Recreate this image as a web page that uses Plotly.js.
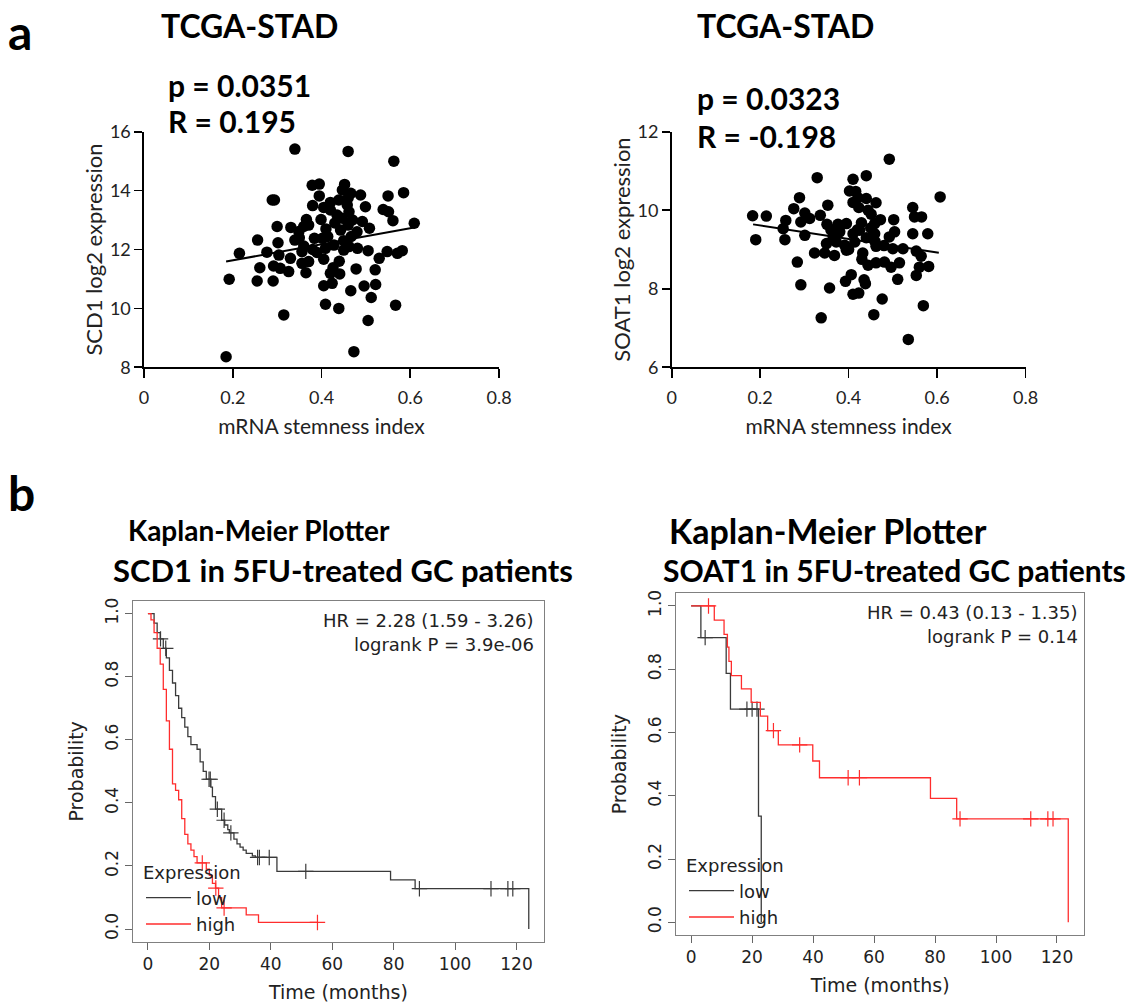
<!DOCTYPE html>
<html>
<head>
<meta charset="utf-8">
<script src="https://cdn.plot.ly/plotly-3.0.1.min.js"></script>
<style>html,body{margin:0;padding:0;background:#fff;}#chart{width:1138px;height:1008px;}</style>
</head>
<body>
<div id="chart"></div>
<script>
// ---------- Panel a: TCGA-STAD scatter data ----------
const scd1Stemness = [0.340,0.460,0.563,0.379,0.395,0.452,0.447,0.466,0.488,0.550,0.585,0.395,0.289,0.294,0.380,0.439,0.458,0.405,0.420,0.499,0.539,0.551,0.435,0.447,0.462,0.561,0.609,0.366,0.399,0.492,0.300,0.331,0.360,0.371,0.460,0.508,0.349,0.443,0.256,0.302,0.340,0.384,0.402,0.414,0.467,0.215,0.277,0.304,0.360,0.356,0.409,0.428,0.450,0.462,0.481,0.505,0.548,0.571,0.582,0.405,0.530,0.261,0.292,0.307,0.326,0.356,0.371,0.365,0.426,0.478,0.521,0.192,0.255,0.291,0.420,0.441,0.405,0.424,0.466,0.496,0.522,0.512,0.409,0.439,0.567,0.315,0.505,0.473,0.185,0.430,0.450,0.470,0.410,0.390,0.440,0.480,0.380,0.420,0.460,0.350,0.330];
const scd1Expr = [15.41,15.33,15.00,14.18,14.22,14.21,14.02,13.91,13.85,13.82,13.93,13.82,13.68,13.68,13.49,13.68,13.51,13.43,13.34,13.45,13.36,13.28,13.17,13.06,13.28,12.98,12.89,13.02,13.02,12.95,12.78,12.75,12.78,12.83,12.83,12.72,12.61,12.66,12.32,12.23,12.32,12.38,12.38,12.44,12.44,11.87,11.91,11.81,12.12,11.93,12.04,12.15,11.98,12.10,12.04,11.96,11.93,11.87,11.96,11.67,11.70,11.38,11.44,11.36,11.25,11.53,11.59,11.21,11.38,11.34,11.31,10.99,10.93,10.93,11.19,11.17,10.77,10.85,10.60,10.76,10.81,10.37,10.14,10.00,10.11,9.78,9.59,8.53,8.36,12.90,12.30,13.00,12.70,11.90,11.60,12.60,12.00,13.60,13.75,12.40,11.70];
const scd1FitX = [0.185, 0.609];
const scd1FitY = [11.59, 12.75];

const soat1Stemness = [0.492,0.329,0.410,0.440,0.402,0.416,0.421,0.440,0.462,0.289,0.607,0.353,0.276,0.301,0.312,0.292,0.183,0.214,0.258,0.336,0.423,0.444,0.451,0.472,0.502,0.545,0.549,0.565,0.351,0.376,0.395,0.429,0.459,0.252,0.301,0.190,0.256,0.365,0.410,0.425,0.459,0.492,0.504,0.545,0.579,0.350,0.372,0.391,0.414,0.462,0.500,0.523,0.553,0.564,0.323,0.346,0.368,0.395,0.432,0.284,0.444,0.462,0.481,0.496,0.515,0.560,0.581,0.406,0.553,0.393,0.435,0.438,0.511,0.292,0.357,0.410,0.423,0.476,0.569,0.338,0.457,0.535,0.420,0.440,0.400,0.380,0.460,0.430,0.360,0.480,0.410,0.450];
const soat1Expr = [11.30,10.83,10.79,10.88,10.49,10.48,10.32,10.30,10.19,10.32,10.34,10.13,10.04,9.93,9.79,9.70,9.86,9.85,9.74,9.87,10.07,10.00,9.90,9.76,9.76,10.07,9.83,9.83,9.64,9.64,9.66,9.68,9.66,9.53,9.36,9.25,9.25,9.32,9.40,9.49,9.40,9.32,9.45,9.40,9.40,9.15,9.19,9.11,9.19,9.08,9.02,9.02,8.96,8.83,8.91,8.91,8.85,8.98,8.91,8.68,8.60,8.66,8.68,8.55,8.66,8.55,8.57,8.36,8.34,8.19,8.23,8.13,8.24,8.10,8.02,7.86,7.89,7.74,7.57,7.26,7.34,6.71,9.50,9.30,9.00,9.45,9.20,8.75,9.50,9.10,10.20,9.55];
const soat1FitX = [0.184, 0.604];
const soat1FitY = [9.64, 8.92];

const stemTicks = [0, 0.2, 0.4, 0.6, 0.8];
const stemTickText = ['0', '0.2', '0.4', '0.6', '0.8'];

// ---------- Panel b: Kaplan-Meier data ----------
const scd1LowTime = [0,2,3,4,5,6,7,8,9,10,11,12,13,14,16,17,18,19,20.5,21,22,24,25,26,26.5,28,29,30,31,32,34,35,42,79,87,124];
const scd1LowSurv = [1,0.97,0.94,0.92,0.89,0.86,0.82,0.78,0.74,0.70,0.67,0.64,0.61,0.585,0.57,0.53,0.50,0.475,0.45,0.42,0.38,0.345,0.33,0.315,0.305,0.285,0.27,0.26,0.25,0.24,0.232,0.227,0.183,0.156,0.128,0];
const scd1LowCensor = [4.1,5.8,19.9,20.3,22.6,24.8,27.0,35.7,36.3,39.5,51.4,88.4,111.7,117.2,118.8];
const scd1HighTime = [0,1,2,3,4,5,6,7,8,9,10,11,12,13,14,15,16,19,20,21,22,23,24,32,36,55.2];
const scd1HighSurv = [1,0.98,0.94,0.89,0.84,0.76,0.66,0.57,0.46,0.44,0.41,0.35,0.30,0.27,0.25,0.23,0.21,0.19,0.17,0.145,0.13,0.10,0.067,0.045,0.021,0.021];
const scd1HighCensor = [17.7,22.1,24.8,55.2];

const soat1LowTime = [0,3.2,11.5,12.9,22.1,23.0];
const soat1LowSurv = [1,0.9,0.787,0.674,0.336,0];
const soat1LowCensor = [4.6,18.3,20.0,21.6];
const soat1HighTime = [0,7.6,10.8,11.9,12.4,13.2,16.5,19.7,22.7,25.1,28.6,39.9,42.1,78.5,87.1,123.7];
const soat1HighSurv = [1,0.955,0.91,0.87,0.825,0.78,0.738,0.695,0.652,0.606,0.561,0.51,0.457,0.392,0.327,0];
const soat1HighCensor = [5.7,27.0,35.6,51.5,55.2,88.2,111.4,117.0,118.7];

const timeTicks = [0,20,40,60,80,100,120];
const probTicks = [0,0.2,0.4,0.6,0.8,1.0];
const probTickText = ['0.0','0.2','0.4','0.6','0.8','1.0'];

// ---------- helpers ----------
function survAt(times, surv, t) {
  let s = surv[0];
  for (let i = 0; i < times.length; i++) { if (times[i] <= t) s = surv[i]; }
  return s;
}
const W = 1138, H = 1008;
const px = v => v / W;
const py = v => 1 - v / H;

const LOWC = '#3a3a3a';
const HIGHC = 'rgb(255,45,45)';

function kmTraces(t, s, c, name, color, xa, ya, legend) {
  return [
    {x: t, y: s, type: 'scatter', mode: 'lines', line: {shape: 'hv', color: color, width: 1.3},
     name: name, xaxis: xa, yaxis: ya, legend: legend, showlegend: true, hoverinfo: 'skip'},
    {x: c, y: c.map(v => survAt(t, s, v)), type: 'scatter', mode: 'markers',
     marker: {symbol: 'cross-thin', size: 11, line: {width: 1.2, color: color}},
     xaxis: xa, yaxis: ya, showlegend: false, hoverinfo: 'skip'}
  ];
}

const dotMarker = {color: '#000', size: 11.5, line: {width: 0}};
const traces = [
  {x: scd1Stemness, y: scd1Expr, type: 'scatter', mode: 'markers', marker: dotMarker, xaxis: 'x', yaxis: 'y', showlegend: false},
  {x: scd1FitX, y: scd1FitY, type: 'scatter', mode: 'lines', line: {color: '#000', width: 2}, xaxis: 'x', yaxis: 'y', showlegend: false},
  {x: soat1Stemness, y: soat1Expr, type: 'scatter', mode: 'markers', marker: dotMarker, xaxis: 'x2', yaxis: 'y2', showlegend: false},
  {x: soat1FitX, y: soat1FitY, type: 'scatter', mode: 'lines', line: {color: '#000', width: 2}, xaxis: 'x2', yaxis: 'y2', showlegend: false},
  ...kmTraces(scd1LowTime, scd1LowSurv, scd1LowCensor, 'low', LOWC, 'x3', 'y3', 'legend'),
  ...kmTraces(scd1HighTime, scd1HighSurv, scd1HighCensor, 'high', HIGHC, 'x3', 'y3', 'legend'),
  ...kmTraces(soat1LowTime, soat1LowSurv, soat1LowCensor, 'low', LOWC, 'x4', 'y4', 'legend2'),
  ...kmTraces(soat1HighTime, soat1HighSurv, soat1HighCensor, 'high', HIGHC, 'x4', 'y4', 'legend2')
];

const scFont = {family: 'Lato, sans-serif', size: 18, color: '#222'};
function scX(dom, anchor) {
  return {domain: dom, anchor: anchor, range: [0, 0.8], tickvals: stemTicks, ticktext: stemTickText,
    showline: true, linecolor: '#000', linewidth: 1.6, ticks: 'outside', ticklen: 9, tickwidth: 1.6, tickcolor: '#000',
    ticklabelstandoff: 4,
    showgrid: false, zeroline: false, tickfont: scFont, fixedrange: true,
    title: {text: 'mRNA stemness index', font: {family: 'Lato, sans-serif', size: 21, color: '#222'}, standoff: 13}};
}
function scY(dom, anchor, range, title) {
  return {domain: dom, anchor: anchor, range: range, dtick: 2, tick0: range[0],
    showline: true, linecolor: '#000', linewidth: 1.6, ticks: 'outside', ticklen: 8, tickwidth: 1.6, tickcolor: '#000',
    showgrid: false, zeroline: false, tickfont: scFont, fixedrange: true,
    title: {text: title, font: {family: 'Lato, sans-serif', size: 22, color: '#222'}, standoff: 1}};
}
const kmFont = {family: 'DejaVu Sans, sans-serif', size: 17, color: '#222'};
function kmX(dom, anchor) {
  return {domain: dom, anchor: anchor, range: [-4.96, 128.96], tickvals: timeTicks,
    showline: true, mirror: true, linecolor: '#808080', linewidth: 1, ticks: 'outside', ticklen: 7, tickcolor: '#666',
    showgrid: false, zeroline: false, tickfont: kmFont, fixedrange: true,
    title: {text: 'Time (months)', font: {family: 'DejaVu Sans, sans-serif', size: 19, color: '#222'}, standoff: 12}};
}
function kmY(dom, anchor) {
  return {domain: dom, anchor: anchor, range: [-0.04, 1.04], tickvals: probTicks, ticktext: probTickText, tickangle: -90,
    showline: true, mirror: true, linecolor: '#808080', linewidth: 1, ticks: 'outside', ticklen: 7, tickcolor: '#666',
    showgrid: false, zeroline: false, tickfont: kmFont, fixedrange: true,
    title: {text: 'Probability', font: {family: 'DejaVu Sans, sans-serif', size: 19, color: '#222'}, standoff: 13}};
}

const boldFont = (s) => ({family: 'Lato, sans-serif', size: s, color: '#000', weight: 'bold'});
function ann(text, x, y, size, xanchor, font) {
  return {text: text, xref: 'paper', yref: 'paper', x: px(x), y: py(y), xanchor: xanchor || 'left', yanchor: 'middle',
    showarrow: false, font: font || boldFont(size)};
}
const hrFont = {family: 'DejaVu Sans, sans-serif', size: 18, color: '#222'};
const legFont = {family: 'DejaVu Sans, sans-serif', size: 18, color: '#222'};

const layout = {
  width: W, height: H, margin: {l: 0, r: 0, t: 0, b: 0},
  paper_bgcolor: '#fff', plot_bgcolor: '#fff',
  xaxis: scX([px(144), px(499)], 'y'),
  yaxis: scY([py(367.3), py(131.7)], 'x', [8, 16], 'SCD1 log2 expression'),
  xaxis2: scX([px(671.7), px(1025.5)], 'y2'),
  yaxis2: scY([py(367.3), py(131.7)], 'x2', [6, 12], 'SOAT1 log2 expression'),
  xaxis3: kmX([px(132.7), px(544)], 'y3'),
  yaxis3: kmY([py(941.7), py(601)], 'x3'),
  xaxis4: kmX([px(676), px(1084.3)], 'y4'),
  yaxis4: kmY([py(935), py(593.3)], 'x4'),
  legend: {x: px(141), y: py(856), xanchor: 'left', yanchor: 'top', bgcolor: 'rgba(0,0,0,0)',
    font: legFont, tracegroupgap: 0, itemwidth: 45,
    title: {text: 'Expression', font: legFont}},
  legend2: {x: px(684), y: py(849), xanchor: 'left', yanchor: 'top', bgcolor: 'rgba(0,0,0,0)',
    font: legFont, tracegroupgap: 0, itemwidth: 45,
    title: {text: 'Expression', font: legFont}},
  annotations: [
    ann('a', 6, 31, 48),
    ann('TCGA-STAD', 159, 25, 32),
    ann('p = 0.0351', 166, 85, 30),
    ann('R = 0.195', 166, 121, 30),
    ann('TCGA-STAD', 695, 25, 32),
    ann('p = 0.0323', 695, 98, 30),
    ann('R = -0.198', 695, 136, 30),
    ann('b', 6, 492, 48),
    ann('Kaplan-Meier Plotter', 126, 530, 28),
    ann('SCD1 in 5FU-treated GC patients', 111, 570, 31),
    ann('Kaplan-Meier Plotter', 667, 530, 34),
    ann('SOAT1 in 5FU-treated GC patients', 661, 570, 30),
    ann('HR = 2.28 (1.59 - 3.26)', 536, 620, 18, 'right', hrFont),
    ann('logrank P = 3.9e-06', 536, 644, 18, 'right', hrFont),
    ann('HR = 0.43 (0.13 - 1.35)', 1080, 612, 18, 'right', hrFont),
    ann('logrank P = 0.14', 1080, 636, 18, 'right', hrFont)
  ]
};

Plotly.newPlot('chart', traces, layout, {staticPlot: true, displayModeBar: false});
</script>
</body>
</html>
